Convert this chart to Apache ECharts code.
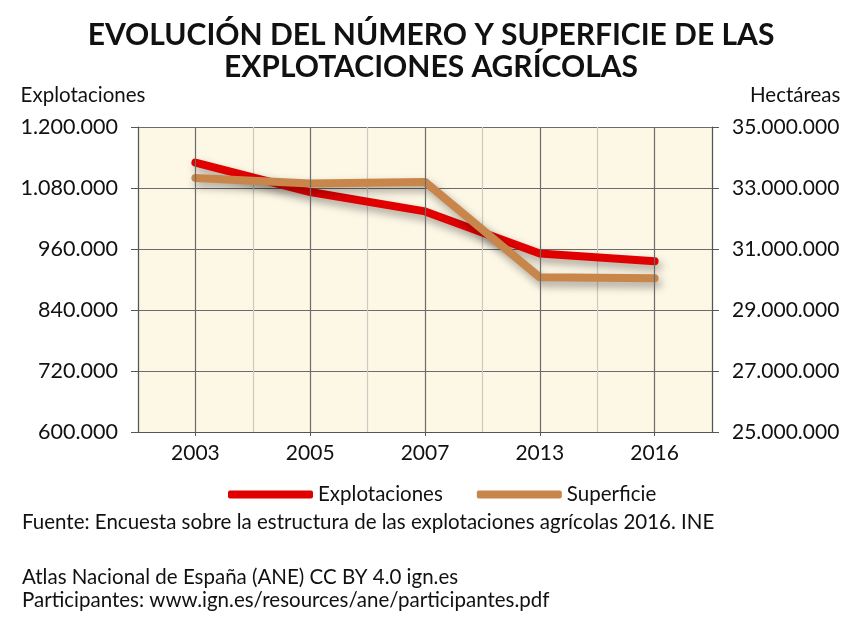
<!DOCTYPE html>
<html>
<head>
<meta charset="utf-8">
<script src="https://cdn.jsdelivr.net/npm/echarts@6/dist/echarts.min.js"></script>
<style>
  html, body { margin: 0; padding: 0; background: #fff; }
  #main { width: 862px; height: 626px; }
</style>
</head>
<body>
<div id="main"></div>
<script>
// years on the x axis
var years = ["2003", "2005", "2007", "2013", "2016"];
// number of holdings (left axis)
var explotaciones = [1130000, 1072000, 1034000, 951000, 936000];
// surface in hectares (right axis)
var superficie = [33330000, 33150000, 33200000, 30070000, 30040000];

var leftMin = 600000, leftMax = 1200000, leftStep = 120000;
var rightMin = 25000000, rightMax = 35000000;

var FONT = "Lato";

function dotted(v) {
    return String(v).replace(/\B(?=(\d{3})+(?!\d))/g, ".");
}

var myChart = echarts.init(document.getElementById("main"));

var lineShadow = {
    shadowColor: "rgba(0,0,0,0.35)",
    shadowBlur: 8,
    shadowOffsetX: 3,
    shadowOffsetY: 5
};

var option = {
    backgroundColor: "#ffffff",
    animation: false,
    title: {
        text: "EVOLUCIÓN DEL NÚMERO Y SUPERFICIE DE LAS\nEXPLOTACIONES AGRÍCOLAS",
        left: "center",
        top: 14,
        textStyle: {
            fontFamily: FONT,
            fontWeight: "bold",
            fontSize: 30,
            lineHeight: 32,
            color: "#111"
        }
    },
    legend: {
        left: 223,
        top: 479,
        itemWidth: 85,
        itemHeight: 8,
        itemGap: 34,
        icon: "roundRect",
        textStyle: { fontFamily: FONT, fontSize: 20.5, color: "#111" },
        data: ["Explotaciones", "Superficie"]
    },
    grid: { left: 138, right: 150, top: 127, bottom: 194 },
    xAxis: {
        type: "category",
        data: years,
        boundaryGap: true,
        axisLine: { lineStyle: { color: "#555", width: 1.2 } },
        axisTick: { show: true, alignWithLabel: true, length: 4, lineStyle: { color: "#555" } },
        axisLabel: { fontFamily: FONT, fontSize: 21, color: "#111", margin: 11 },
        splitLine: { show: true, lineStyle: { color: "#cfcac0", width: 1.2 } },
        splitArea: { show: false }
    },
    yAxis: [
        {
            type: "value",
            min: leftMin,
            max: leftMax,
            interval: leftStep,
            name: "Explotaciones",
            nameLocation: "end",
            nameGap: 21,
            nameTextStyle: { fontFamily: FONT, fontSize: 20.5, color: "#111", align: "center", padding: [0, 110, 0, 0] },
            axisLine: { show: true, lineStyle: { color: "#555", width: 1.2 } },
            axisTick: { show: true, length: 7, lineStyle: { color: "#555" } },
            axisLabel: { fontFamily: FONT, fontSize: 21.5, color: "#111", margin: 20, formatter: dotted },
            splitLine: { show: true, lineStyle: { color: "#6b6b6b", width: 1.2 } },
            splitArea: { show: true, areaStyle: { color: ["#fdf7e6"] } }
        },
        {
            type: "value",
            min: rightMin,
            max: rightMax,
            alignTicks: true,
            name: "Hectáreas",
            nameLocation: "end",
            nameGap: 21,
            nameTextStyle: { fontFamily: FONT, fontSize: 20.5, color: "#111", align: "left", padding: [0, 0, 0, 38] },
            axisLine: { show: true, lineStyle: { color: "#555", width: 1.2 } },
            axisTick: { show: true, length: 7, lineStyle: { color: "#555" } },
            axisLabel: { fontFamily: FONT, fontSize: 21, color: "#111", margin: 20, formatter: dotted },
            splitLine: { show: false }
        }
    ],
    series: [
        {
            // dark gridlines at each year
            name: "grid",
            type: "line",
            data: years.map(function () { return null; }),
            silent: true,
            z: 1,
            symbol: "none",
            lineStyle: { width: 0 },
            markLine: {
                silent: true,
                symbol: "none",
                label: { show: false },
                lineStyle: { color: "#6b6b6b", width: 1.2, type: "solid" },
                data: years.map(function (y) { return { xAxis: y }; })
            }
        },
        {
            name: "Explotaciones",
            type: "line",
            yAxisIndex: 0,
            data: explotaciones,
            symbol: "none",
            z: 3,
            itemStyle: { color: "#e00000" },
            lineStyle: Object.assign({ color: "#e00000", width: 8, cap: "round", join: "round" }, lineShadow)
        },
        {
            name: "Superficie",
            type: "line",
            yAxisIndex: 1,
            data: superficie,
            symbol: "none",
            z: 4,
            itemStyle: { color: "#c8864a" },
            lineStyle: Object.assign({ color: "#c8864a", width: 8, cap: "round", join: "round" }, lineShadow)
        }
    ],
    graphic: [
        {
            type: "text",
            left: 22,
            top: 512,
            style: {
                text: "Fuente: Encuesta sobre la estructura de las explotaciones agrícolas 2016. INE",
                font: "20.5px " + FONT,
                fill: "#111"
            }
        },
        {
            type: "text",
            left: 22,
            top: 567,
            style: {
                text: "Atlas Nacional de España (ANE) CC BY 4.0 ign.es",
                font: "20.5px " + FONT,
                fill: "#111"
            }
        },
        {
            type: "text",
            left: 22,
            top: 590,
            style: {
                text: "Participantes: www.ign.es/resources/ane/participantes.pdf",
                font: "20.5px " + FONT,
                fill: "#111"
            }
        }
    ]
};

myChart.setOption(option);
window.addEventListener("resize", function () { myChart.resize(); });
</script>
</body>
</html>
